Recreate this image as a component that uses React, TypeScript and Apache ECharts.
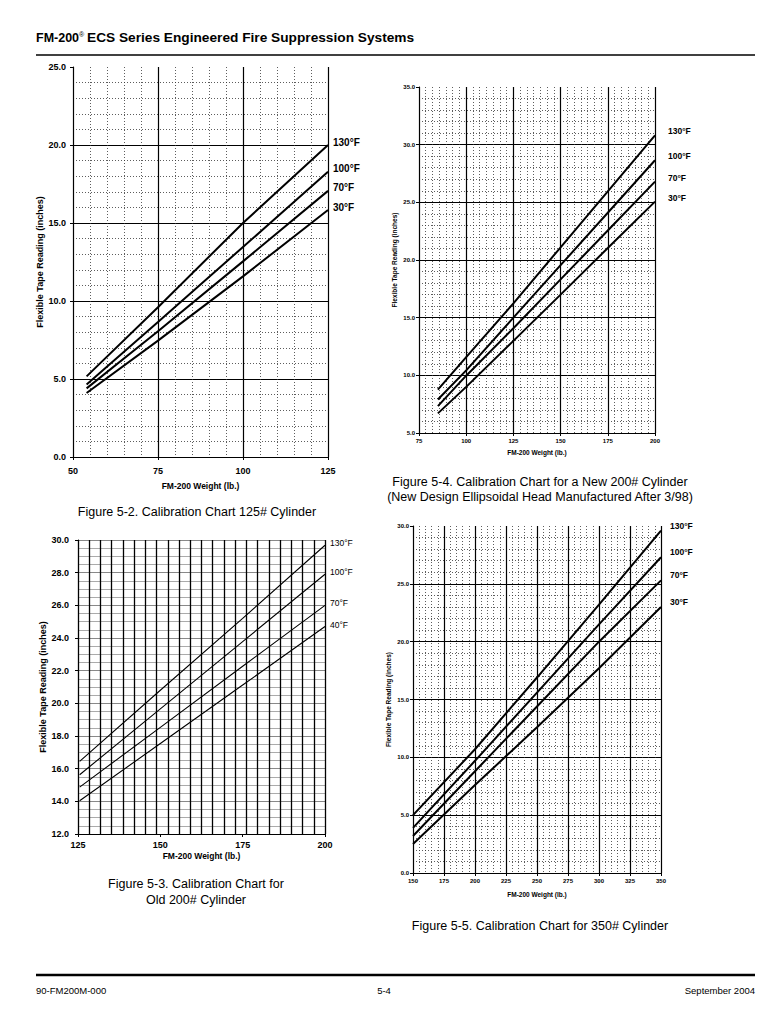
import React, { useEffect, useRef } from "react";
import * as echarts from "echarts";

const FONT = '"Liberation Sans", Arial, Helvetica, sans-serif';

// ---------- data ----------
const tempNames = ["130°F", "100°F", "70°F", "30°F"];
const tempNamesOld = ["130°F", "100°F", "70°F", "40°F"];

// Figure 5-2 : 125# cylinder
const c1Weights = [54, 75, 100, 125];
const c1T130 = [5.17, 9.6, 15.0, 20.0];
const c1T100 = [4.64, 8.66, 13.46, 18.28];
const c1T70 = [4.4, 8.06, 12.54, 17.06];
const c1T30 = [4.1, 7.46, 11.58, 15.83];

// Figure 5-4 : new 200# cylinder
const c2Weights = [85, 100, 125, 150, 175, 200];
const c2T130 = [8.76, 11.58, 16.24, 21.1, 25.95, 30.8];
const c2T100 = [7.9, 10.43, 15.0, 19.55, 24.1, 28.65];
const c2T70 = [7.33, 9.97, 14.08, 18.32, 22.56, 26.8];
const c2T30 = [6.7, 9.0, 12.99, 17.0, 21.04, 25.06];

// Figure 5-3 : old 200# cylinder
const c3Weights = [125.5, 150, 175, 200];
const c3T130 = [16.45, 20.8, 25.2, 29.68];
const c3T100 = [15.63, 19.66, 23.78, 27.9];
const c3T70 = [14.87, 18.53, 22.27, 26.0];
const c3T40 = [14.04, 17.54, 21.12, 24.7];

// Figure 5-5 : 350# cylinder
const c4Weights = [150, 200, 250, 300, 350];
const c4T130 = [5.0, 10.7, 16.9, 23.2, 29.6];
const c4T100 = [3.9, 9.7, 15.6, 21.5, 27.3];
const c4T70 = [3.2, 8.8, 14.4, 20.0, 25.3];
const c4T30 = [2.5, 7.6, 12.6, 17.7, 23.0];

// axis ranges / tick steps
const c1X = { min: 50, max: 125, step: 25 };
const c1Y = { min: 0, max: 25, step: 5 };
const c2X = { min: 75, max: 200, step: 25 };
const c2Y = { min: 5, max: 35, step: 5 };
const c3X = { min: 125, max: 200, step: 25 };
const c3Y = { min: 12, max: 30, step: 2 };
const c3VerticalRules = 22;
const c4X = { min: 150, max: 350, step: 25 };
const c4Y = { min: 0, max: 30, step: 5 };

const X_NAME = "FM-200 Weight (lb.)";
const Y_NAME = "Flexible Tape Reading (inches)";

const headerTitleA = "FM-200";
const headerTitleB = "ECS Series Engineered Fire Suppression Systems";
const caption1 = ["Figure 5-2. Calibration Chart 125# Cylinder"];
const caption2 = [
  "Figure 5-4. Calibration Chart for a New 200# Cylinder",
  "(New Design Ellipsoidal Head Manufactured After 3/98)",
];
const caption3 = ["Figure 5-3. Calibration Chart for", "Old 200# Cylinder"];
const caption4 = ["Figure 5-5. Calibration Chart for 350# Cylinder"];
const footer = ["90-FM200M-000", "5-4", "September 2004"];

// ---------- helpers ----------
const dotted = {
  show: true,
  lineStyle: { color: "#333", width: 0.8, type: [1, 2] },
};

function xAxisCfg(
  gi: number,
  r: { min: number; max: number; step: number },
  o: any
) {
  return {
    gridIndex: gi,
    type: "value",
    min: r.min,
    max: r.max,
    interval: r.step,
    name: X_NAME,
    nameLocation: "middle",
    nameGap: o.nameGap,
    nameTextStyle: {
      fontSize: o.nameFs,
      fontWeight: "bold",
      color: "#000",
      fontFamily: FONT,
    },
    axisLine: { show: true, onZero: false, lineStyle: { color: "#000", width: 1 } },
    axisTick: { show: true, length: 3, lineStyle: { color: "#000" } },
    axisLabel: {
      fontSize: o.fs,
      fontWeight: "bold",
      color: "#000",
      margin: o.margin,
      fontFamily: FONT,
    },
    splitLine: o.split ?? {
      show: true,
      lineStyle: { color: "#000", width: 1.2 },
    },
    minorTick: { show: false, splitNumber: o.minor ?? 5 },
    minorSplitLine: o.minorLine ?? dotted,
  };
}

function yAxisCfg(
  gi: number,
  r: { min: number; max: number; step: number },
  o: any
) {
  return {
    gridIndex: gi,
    type: "value",
    min: r.min,
    max: r.max,
    interval: r.step,
    name: Y_NAME,
    nameLocation: "middle",
    nameGap: o.nameGap,
    nameTextStyle: {
      fontSize: o.nameFs,
      fontWeight: "bold",
      color: "#000",
      fontFamily: FONT,
    },
    axisLine: { show: true, onZero: false, lineStyle: { color: "#000", width: 1 } },
    axisTick: { show: true, length: 3, lineStyle: { color: "#000" } },
    axisLabel: {
      fontSize: o.fs,
      fontWeight: "bold",
      color: "#000",
      margin: o.margin,
      fontFamily: FONT,
      formatter: (v: number) => v.toFixed(1),
    },
    splitLine: o.split ?? {
      show: true,
      showMaxLine: false,
      lineStyle: { color: "#000", width: 1.2 },
    },
    minorTick: { show: false, splitNumber: o.minor ?? 5 },
    minorSplitLine: o.minorLine ?? dotted,
  };
}

function lineSeries(
  name: string,
  xs: number[],
  ys: number[],
  axis: number,
  width: number,
  lbl: any
) {
  return {
    type: "line",
    name,
    xAxisIndex: axis,
    yAxisIndex: axis,
    data: xs.map((x, i) => [x, ys[i]]),
    symbol: "none",
    showSymbol: false,
    silent: true,
    lineStyle: { color: "#000", width },
    z: 5,
    endLabel: {
      show: true,
      formatter: (p: any) => p.seriesName,
      color: "#000",
      fontFamily: FONT,
      ...lbl,
    },
  };
}

function text(
  x: number,
  y: number,
  t: string,
  size: number,
  weight: string,
  align: string
) {
  return {
    type: "text",
    x,
    y,
    silent: true,
    style: {
      text: t,
      fill: "#000",
      fontSize: size,
      fontWeight: weight,
      fontFamily: FONT,
      align,
      textAlign: align,
      verticalAlign: "middle",
      textVerticalAlign: "middle",
    },
  };
}

function captionLines(cx: number, y0: number, lines: string[], gap: number) {
  return lines.map((l, i) => text(cx, y0 + i * gap, l, 12.5, "normal", "center"));
}

export default function App() {
  const ref = useRef<HTMLDivElement>(null);

  useEffect(() => {
    if (!ref.current) return;
    const chart = echarts.init(ref.current, null, { renderer: "svg" });

    const lbl1 = { fontSize: 10, fontWeight: "bold", distance: 5, offset: [0, -3] };
    const lbl2 = { fontSize: 8.5, fontWeight: "bold", distance: 13, offset: [0, -4] };
    const lbl3 = { fontSize: 8.5, fontWeight: "normal", distance: 5, offset: [0, -2] };
    const lbl4 = { fontSize: 8.5, fontWeight: "bold", distance: 9, offset: [0, -5] };

    const option: any = {
      animation: false,
      backgroundColor: "#fff",
      grid: [
        { left: 73, top: 67, width: 255, height: 390 },
        { left: 419, top: 87, width: 236, height: 346 },
        { left: 78, top: 540, width: 247, height: 294 },
        { left: 413, top: 526, width: 248, height: 347 },
      ],
      xAxis: [
        xAxisCfg(0, c1X, { fs: 9, margin: 9, nameGap: 24, nameFs: 8.5, minor: 5 }),
        xAxisCfg(1, c2X, { fs: 6, margin: 5, nameGap: 16, nameFs: 6.5, minor: 7 }),
        xAxisCfg(2, c3X, {
          fs: 9,
          margin: 6,
          nameGap: 17,
          nameFs: 8.5,
          split: { show: false },
          minorLine: { show: false },
        }),
        xAxisCfg(3, c4X, { fs: 6, margin: 5, nameGap: 18, nameFs: 6.5, minor: 5 }),
        {
          gridIndex: 2,
          type: "value",
          position: "top",
          min: 0,
          max: c3VerticalRules,
          interval: 1,
          axisLine: { show: false },
          axisTick: { show: false },
          axisLabel: { show: false },
          splitLine: { show: true, lineStyle: { color: "#000", width: 1.3 } },
        },
      ],
      yAxis: [
        yAxisCfg(0, c1Y, { fs: 9, margin: 7, nameGap: 29, nameFs: 9, minor: 5 }),
        yAxisCfg(1, c2Y, { fs: 6, margin: 4, nameGap: 21, nameFs: 6.5, minor: 5 }),
        yAxisCfg(2, c3Y, {
          fs: 9,
          margin: 9,
          nameGap: 30,
          nameFs: 9,
          minor: 4,
          split: { show: true, lineStyle: { color: "#888", width: 1 } },
          minorLine: { show: true, lineStyle: { color: "#aaa", width: 1 } },
        }),
        yAxisCfg(3, c4Y, { fs: 6, margin: 4, nameGap: 21, nameFs: 6.5, minor: 5 }),
      ],
      series: [
        lineSeries(tempNames[0], c1Weights, c1T130, 0, 2, lbl1),
        lineSeries(tempNames[1], c1Weights, c1T100, 0, 2, lbl1),
        lineSeries(tempNames[2], c1Weights, c1T70, 0, 2, lbl1),
        lineSeries(tempNames[3], c1Weights, c1T30, 0, 2, lbl1),
        lineSeries(tempNames[0], c2Weights, c2T130, 1, 2, lbl2),
        lineSeries(tempNames[1], c2Weights, c2T100, 1, 2, lbl2),
        lineSeries(tempNames[2], c2Weights, c2T70, 1, 2, lbl2),
        lineSeries(tempNames[3], c2Weights, c2T30, 1, 2, lbl2),
        lineSeries(tempNamesOld[0], c3Weights, c3T130, 2, 1.1, lbl3),
        lineSeries(tempNamesOld[1], c3Weights, c3T100, 2, 1.1, lbl3),
        lineSeries(tempNamesOld[2], c3Weights, c3T70, 2, 1.1, lbl3),
        lineSeries(tempNamesOld[3], c3Weights, c3T40, 2, 1.1, lbl3),
        lineSeries(tempNames[0], c4Weights, c4T130, 3, 2, lbl4),
        lineSeries(tempNames[1], c4Weights, c4T100, 3, 2, lbl4),
        lineSeries(tempNames[2], c4Weights, c4T70, 3, 2, lbl4),
        lineSeries(tempNames[3], c4Weights, c4T30, 3, 2, lbl4),
      ],
      graphic: [
        text(36, 37.5, headerTitleA, 12.5, "bold", "left"),
        {
          type: "text",
          x: 79,
          y: 34,
          silent: true,
          style: {
            text: "®",
            fill: "#000",
            fontSize: 7,
            fontFamily: FONT,
            align: "left",
            textAlign: "left",
            verticalAlign: "middle",
            textVerticalAlign: "middle",
          },
        },
        text(87, 37.5, headerTitleB, 13.7, "bold", "left"),
        {
          type: "line",
          silent: true,
          shape: { x1: 36, y1: 55, x2: 755, y2: 55 },
          style: { stroke: "#000", lineWidth: 1.3 },
        },
        {
          type: "line",
          silent: true,
          shape: { x1: 36, y1: 975, x2: 755, y2: 975 },
          style: { stroke: "#000", lineWidth: 2.5 },
        },
        text(36, 990, footer[0], 9.5, "normal", "left"),
        text(384, 990, footer[1], 9.5, "normal", "center"),
        text(755, 990, footer[2], 9.5, "normal", "right"),
        ...captionLines(197, 512, caption1, 15),
        ...captionLines(540, 482, caption2, 15),
        ...captionLines(196, 884, caption3, 16),
        ...captionLines(540, 926, caption4, 15),
      ],
    };

    chart.setOption(option);
    return () => {
      chart.dispose();
    };
  }, []);

  return (
    <div
      ref={ref}
      style={{
        position: "absolute",
        left: 0,
        top: 0,
        width: 768,
        height: 1024,
        background: "#fff",
      }}
    />
  );
}
